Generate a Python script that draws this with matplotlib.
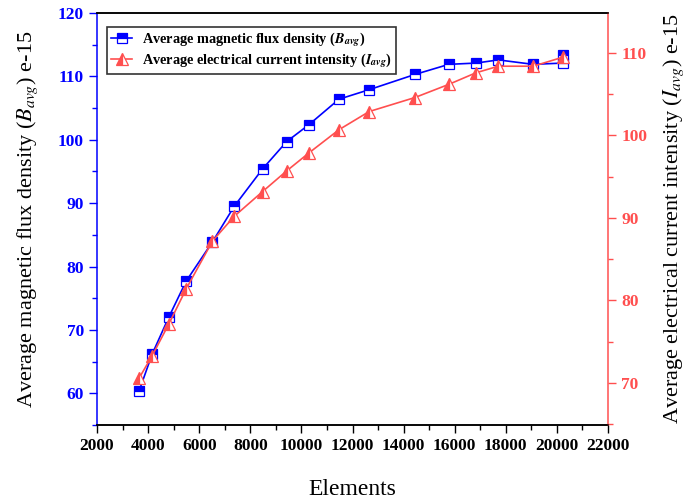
import numpy as np
import matplotlib
matplotlib.use("Agg")
import matplotlib.pyplot as plt
from matplotlib.ticker import MultipleLocator

plt.rcParams['font.family'] = ['Liberation Serif', 'DejaVu Serif']
plt.rcParams['mathtext.fontset'] = 'stix'

# data
elements = [3650, 4160, 4820, 5490, 6520, 7370, 8480, 9420, 10300, 11470,
            12650, 14440, 15770, 16830, 17710, 19070, 20240]
b_elements = elements + [20240]
b_avg = [60.4, 66.2, 72.1, 77.7, 83.9, 89.5, 95.4, 99.7, 102.4, 106.4,
         107.9, 110.3, 111.9, 112.1, 112.6, 111.9, 112.1, 113.4]
i_avg = [70.6, 73.3, 77.2, 81.4, 87.2, 90.2, 93.2, 95.7, 97.9, 100.7,
         102.9, 104.6, 106.2, 107.6, 108.4, 108.4, 109.5]

blue = '#0000FF'
red = '#FF4F4F'

fig = plt.figure(figsize=(6.85, 5.04), dpi=100)
ax = fig.add_axes([0.1416, 0.1567, 0.7460, 0.8175])
ax2 = ax.twinx()

l1, = ax.plot(b_elements, b_avg, color=blue, lw=1.2, marker='s', ms=6.5,
              fillstyle='top', markerfacecolor=blue, markerfacecoloralt='white',
              markeredgecolor=blue, markeredgewidth=0.9,
              label=r'Average magnetic flux density ($\mathbfit{B}_{\mathbfit{avg}}$)')
l2, = ax2.plot(elements, i_avg, color=red, lw=1.2, marker='^', ms=8.5,
               fillstyle='left', markerfacecolor=red, markerfacecoloralt='white',
               markeredgecolor=red, markeredgewidth=0.9,
               label=r'Average electrical current intensity ($\mathbfit{I}_{\mathbfit{avg}}$)')

ax.set_xlim(2000, 22000)
ax.set_ylim(55, 120)
ax2.set_ylim(64.9, 114.85)

ax.xaxis.set_major_locator(MultipleLocator(2000))
ax.xaxis.set_minor_locator(MultipleLocator(1000))
ax.yaxis.set_major_locator(MultipleLocator(10))
ax.yaxis.set_minor_locator(MultipleLocator(5))
ax2.yaxis.set_major_locator(MultipleLocator(10))
ax2.yaxis.set_minor_locator(MultipleLocator(5))

ax.tick_params(axis='x', which='both', direction='out', top=False, colors='black', labelsize=12.5)
ax.tick_params(axis='y', which='both', direction='out', colors=blue, labelsize=12.5)
ax2.tick_params(axis='y', which='both', direction='out', colors=red, labelsize=12.5)
for a in [ax, ax2]:
    a.tick_params(which='major', length=6, width=1)
    a.tick_params(which='minor', length=3.5, width=1)

for lab in ax.get_xticklabels() + ax.get_yticklabels() + ax2.get_yticklabels():
    lab.set_fontweight('bold')

ax.spines['left'].set_color(blue)
ax2.spines['left'].set_visible(False)
ax2.spines['right'].set_color(red)
ax.spines['right'].set_visible(False)
for s in ['left', 'right', 'top', 'bottom']:
    ax.spines[s].set_linewidth(1.1)
    ax2.spines[s].set_linewidth(1.1)

ax.set_xlabel('Elements', fontsize=17, labelpad=18)
ax.set_ylabel('Average magnetic flux density ($B_{avg}$) e-15', fontsize=16, labelpad=13)
ax2.set_ylabel('Average electrical current intensity ($I_{avg}$) e-15', fontsize=16, labelpad=10)

leg = ax.legend(handles=[l1, l2], loc='upper left', bbox_to_anchor=(0.02, 0.967),
                prop={'weight': 'bold', 'size': 10.3}, frameon=True, fancybox=False,
                borderpad=0.25, labelspacing=0.2, handlelength=1.5, handletextpad=0.7,
                borderaxespad=0)
leg.get_frame().set_edgecolor('black')
leg.get_frame().set_linewidth(1.2)

fig.savefig('out.png', dpi=100)
